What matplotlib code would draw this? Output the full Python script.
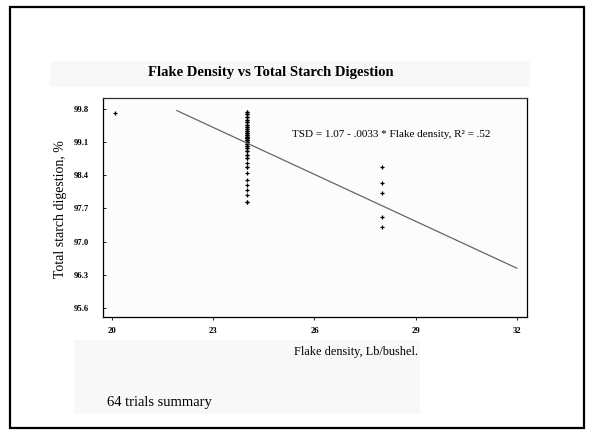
import numpy as np
import matplotlib.pyplot as plt
from matplotlib.patches import Rectangle

# Flake density (lb/bushel) and total starch digestion (%) per trial
density_20 = [20.1]
tsd_20 = [99.72]

density_24 = [24.0] * 58
tsd_24 = [99.74, 99.74, 99.69, 99.69, 99.63, 99.63, 99.57, 99.57, 99.52,
          99.52, 99.46, 99.46, 99.42, 99.42, 99.38, 99.38, 99.34, 99.34,
          99.29, 99.29, 99.29, 99.25, 99.25, 99.25, 99.21, 99.21, 99.21,
          99.18, 99.18, 99.18, 99.14, 99.14, 99.14, 99.10, 99.10, 99.10,
          99.06, 99.06, 99.01, 99.01, 98.97, 98.97, 98.91, 98.91, 98.83,
          98.83, 98.76, 98.76, 98.65, 98.58, 98.58, 98.44, 98.30, 98.20,
          98.09, 97.99, 97.84, 97.84]

density_28 = [28.0] * 5
tsd_28 = [98.58, 98.24, 98.03, 97.52, 97.31]

# Fitted line: TSD = 1.07 - .0033 * flake density (as a fraction)
fit_intercept = 1.07
fit_slope = -0.0033
fit_range = [21.92, 32.0]

xticks = [20, 23, 26, 29, 32]
yticks = [99.8, 99.1, 98.4, 97.7, 97.0, 96.3, 95.6]

serif = ['Liberation Serif', 'DejaVu Serif']

fig = plt.figure(figsize=(5.92, 4.36), dpi=100)

# Slide frame and faint background bands
fig.patches.append(Rectangle((0.017, 0.018), 0.970, 0.966, transform=fig.transFigure,
                             fill=False, edgecolor='black', linewidth=1.6, zorder=0))
fig.patches.append(Rectangle((0.085, 0.80), 0.81, 0.06, transform=fig.transFigure,
                             facecolor='#f8f8f8', edgecolor='none', zorder=-1))
fig.patches.append(Rectangle((0.125, 0.05), 0.585, 0.17, transform=fig.transFigure,
                             facecolor='#f8f8f8', edgecolor='none', zorder=-1))

ax = fig.add_axes([0.174, 0.273, 0.716, 0.502])
ax.set_facecolor('#fcfcfc')

x_all = density_20 + density_24 + density_28
y_all = tsd_20 + tsd_24 + tsd_28
ax.plot(x_all, y_all, linestyle='none', marker='+', markersize=3.5,
        markeredgewidth=0.9, color='black')

fx = np.array(fit_range)
fy = 100 * (fit_intercept + fit_slope * fx)
ax.plot(fx, fy, color='#666666', linewidth=0.9)

ax.set_xlim(19.73, 32.3)
ax.set_ylim(95.41, 100.03)
ax.set_xticks(xticks)
ax.set_yticks(yticks)
ax.set_xticklabels([str(t) for t in xticks], fontfamily=serif,
                   fontsize=6.2, fontweight='bold')
ax.set_yticklabels(['%.1f' % t for t in yticks], fontfamily=serif,
                   fontsize=6.2, fontweight='bold')
ax.tick_params(axis='y', direction='in', length=2.5, width=0.6, pad=10)
ax.tick_params(axis='x', direction='out', length=2.5, width=0.6, pad=5)
for side in ax.spines.values():
    side.set_linewidth(0.9)
ax.spines['top'].set_color('#333333')

ax.text(25.33, 99.27, 'TSD = 1.07 - .0033 * Flake density, R² = .52',
        fontfamily=serif, fontsize=8, va='center', ha='left')

fig.text(0.458, 0.834, 'Flake Density vs Total Starch Digestion',
         fontfamily=serif, fontsize=10.5, fontweight='bold', ha='center', va='center')
fig.text(0.103, 0.52, 'Total starch digestion, %', fontfamily=serif,
         fontsize=10, rotation=90, ha='center', va='center')
fig.text(0.497, 0.192, 'Flake density, Lb/bushel.', fontfamily=serif,
         fontsize=8.8, ha='left', va='center')
fig.text(0.180, 0.076, '64 trials summary', fontfamily=serif,
         fontsize=10.5, ha='left', va='center')

fig.savefig('out.png', dpi=100)
